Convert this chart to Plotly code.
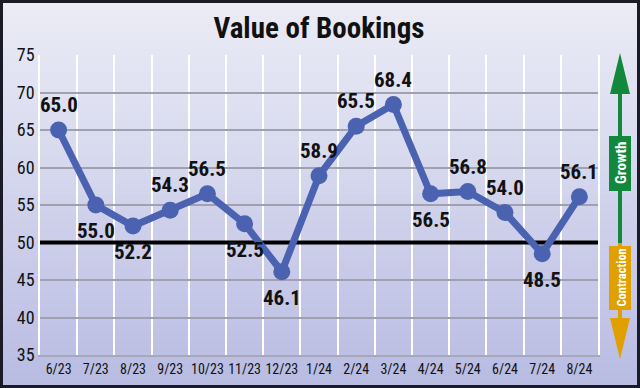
import plotly.graph_objects as go

months = ["6/23", "7/23", "8/23", "9/23", "10/23", "11/23", "12/23", "1/24",
          "2/24", "3/24", "4/24", "5/24", "6/24", "7/24", "8/24"]
values = [65.0, 55.0, 52.2, 54.3, 56.5, 52.5, 46.1, 58.9,
          65.5, 68.4, 56.5, 56.8, 54.0, 48.5, 56.1]
label_side = ["above", "below", "below", "above", "above", "below", "below", "above",
              "above", "above", "below", "above", "above", "below", "above"]
y_ticks = [35, 40, 45, 50, 55, 60, 65, 70, 75]
threshold = 50
title = "Value of Bookings"

W, H = 640, 388
L, R, T, B = 40, 42, 55, 33
PW, PH = W - L - R, H - T - B

def px(x):
    return (x - L) / PW

def py(y):
    return (H - B - y) / PH

NARROW = "Roboto Condensed, DejaVu Sans Condensed, Roboto, sans-serif"

def nf(size, color="#111111", weight="normal"):
    return dict(family=NARROW, size=size, color=color, weight=weight)

idx = list(range(len(months)))
bounds = [i - 0.5 for i in range(len(months) + 1)]

fig = go.Figure()
fig.add_trace(go.Scatter(
    x=[bounds[0], bounds[-1]], y=[threshold, threshold], mode="lines",
    line=dict(color="black", width=4), hoverinfo="skip", showlegend=False,
))
fig.add_trace(go.Scatter(
    x=idx, y=values, mode="lines+markers",
    line=dict(color="#4a62b0", width=7),
    marker=dict(color="#4a62b0", size=17),
    cliponaxis=False, hoverinfo="skip", showlegend=False,
))

annotations = []
for i, (v, side) in enumerate(zip(values, label_side)):
    annotations.append(dict(
        x=i, y=v, xref="x", yref="y", text=f"{v:.1f}", showarrow=False,
        xanchor="center", yanchor="middle",
        yshift=25 if side == "above" else -26,
        font=nf(21, weight="bold")))

shapes = []
# background gradient
n = 48
top = (236, 236, 246)
bot = (184, 188, 226)
for i in range(n):
    t = i / (n - 1)
    c = tuple(round(top[k] + (bot[k] - top[k]) * t) for k in range(3))
    shapes.append(dict(type="rect", xref="paper", yref="paper",
                       x0=px(0), x1=px(W), y0=py(H * i / n), y1=py(H * (i + 1) / n + 0.5),
                       fillcolor="rgb(%d,%d,%d)" % c, line=dict(width=0), layer="below"))
# outer border
shapes.append(dict(type="rect", xref="paper", yref="paper",
                   x0=px(1.5), x1=px(W - 1.5), y0=py(1.5), y1=py(H - 1.5),
                   line=dict(color="#1b1b28", width=3), layer="above"))

# growth / contraction indicator
green = "#12883c"
orange = "#e0a000"
ax = 620
shapes.append(dict(type="line", xref="paper", yref="paper", x0=px(ax), x1=px(ax),
                   y0=py(92), y1=py(243), line=dict(color=green, width=4)))
shapes.append(dict(type="path", xref="paper", yref="paper",
                   path=f"M {px(ax-10)} {py(94)} L {px(ax+10)} {py(94)} L {px(ax)} {py(53)} Z",
                   fillcolor=green, line=dict(width=0)))
shapes.append(dict(type="line", xref="paper", yref="paper", x0=px(ax), x1=px(ax),
                   y0=py(243), y1=py(320), line=dict(color=orange, width=4)))
shapes.append(dict(type="path", xref="paper", yref="paper",
                   path=f"M {px(ax-10)} {py(318)} L {px(ax+10)} {py(318)} L {px(ax)} {py(359)} Z",
                   fillcolor=orange, line=dict(width=0)))
shapes.append(dict(type="rect", xref="paper", yref="paper",
                   x0=px(609), x1=px(631), y0=py(136), y1=py(191),
                   fillcolor=green, line=dict(width=0)))
shapes.append(dict(type="rect", xref="paper", yref="paper",
                   x0=px(609), x1=px(631), y0=py(246), y1=py(310),
                   fillcolor=orange, line=dict(width=0)))

annotations += [
    dict(text="Growth", xref="paper", yref="paper", x=px(620.5), y=py(163.5),
         xanchor="center", yanchor="middle",
         textangle=-90, showarrow=False, font=nf(15, "white", "bold")),
    dict(text="Contraction", xref="paper", yref="paper", x=px(620.5), y=py(278),
         xanchor="center", yanchor="middle",
         textangle=-90, showarrow=False, font=nf(12.5, "white", "bold")),
]

fig.update_layout(
    width=W, height=H,
    margin=dict(l=L, r=R, t=T, b=B, pad=0, autoexpand=False),
    paper_bgcolor="#e0e0f0", plot_bgcolor="rgba(0,0,0,0)",
    title=dict(text=title, x=0.5, xref="paper", xanchor="center",
               y=1 - 28 / H, yanchor="middle", automargin=False,
               font=nf(29, weight="bold")),
    shapes=shapes, annotations=annotations,
    xaxis=dict(range=[bounds[0], bounds[-1]], tickvals=idx, ticktext=months,
               showgrid=False, zeroline=False, ticks="", showline=True,
               linecolor="#a8a8b8", linewidth=1.5, tickangle=0, automargin=False,
               minor=dict(tickvals=bounds, showgrid=True, gridcolor="white",
                          gridwidth=1.5, ticks=""),
               tickfont=nf(14), fixedrange=True),
    yaxis=dict(range=[35, 75], tickvals=y_ticks, showgrid=True, gridcolor="#a0a0b0",
               gridwidth=1.5, zeroline=False, showline=True, linecolor="white",
               mirror=True, linewidth=1.5, ticks="", ticklen=0, automargin=False,
               tickfont=nf(18), fixedrange=True),
)

fig.write_html("out.html", config={"displayModeBar": False},
               post_script="document.body.style.margin='0';document.body.style.overflow='hidden';")
